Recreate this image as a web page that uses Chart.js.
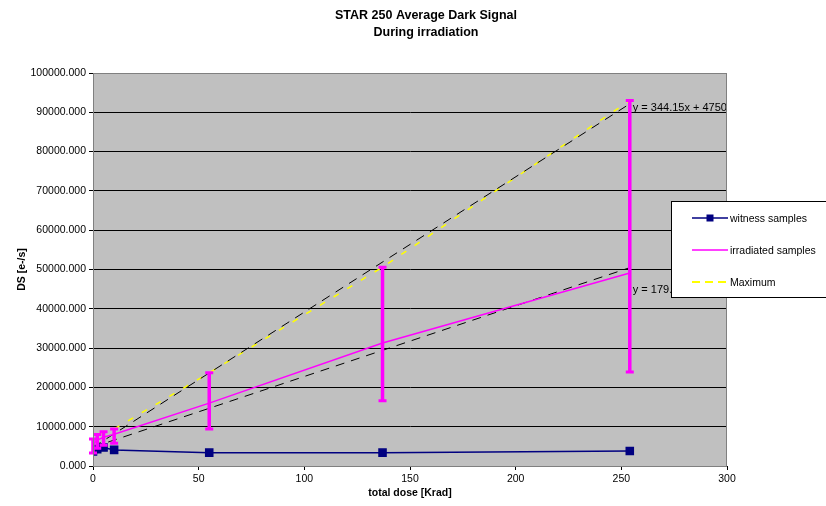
<!DOCTYPE html>
<html>
<head>
<meta charset="utf-8">
<script src="https://cdn.jsdelivr.net/npm/chart.js@4/dist/chart.umd.min.js"></script>
<style>
    html, body { margin: 0; padding: 0; background: #ffffff; }
    #wrap { width: 826px; height: 506px; }
</style>
</head>
<body>
<div id="wrap"><canvas id="chart" width="826" height="506"></canvas></div>
<script>
// Dose steps (Krad) and measured dark signal (e-/s)
const doseX = [0, 2, 5, 10, 55, 137, 254];
const witnessDS = [3700, 4300, 4700, 4100, 3400, 3400, 3800];
const irradiatedDS = [5500, 6600, 7300, 8100, 16000, 31300, 49100];
const errLowDS = [3300, 4500, 5300, 5800, 9400, 16600, 23900];
const maximumDS = [6900, 8000, 8700, 9400, 23700, 50600, 93000];

const trendX = [0, 254];
const trendMaxY = [4750, 92164];
const trendIrrY = [4800, 50470];
const trendLabels = ['y = 344.15x + 4750', 'y = 179.8x + 4800'];

const titleLines = ['STAR 250 Average Dark Signal', 'During irradiation'];
const legendNames = ['witness samples', 'irradiated samples', 'Maximum'];

const FONT = "Arial, 'Liberation Sans', sans-serif";
const colors = {
    witness: '#000080',
    irradiated: '#FF00FF',
    maximum: '#FFFF00',
    trend: '#000000',
    plotBg: '#C0C0C0'
};

function toPoints(xs, ys) {
    return xs.map((x, i) => ({ x: x, y: ys[i] }));
}

// Gray plot area, title, error bars, trend labels and the boxed legend
const plotExtras = {
    id: 'plotExtras',
    beforeDraw(chart) {
        const { ctx, chartArea: a } = chart;
        ctx.save();
        ctx.fillStyle = colors.plotBg;
        ctx.fillRect(a.left, a.top, a.right - a.left, a.bottom - a.top);

        ctx.fillStyle = '#000000';
        ctx.font = 'bold 12.5px ' + FONT;
        ctx.textAlign = 'center';
        ctx.textBaseline = 'middle';
        ctx.fillText(titleLines[0], 426, 16);
        ctx.fillText(titleLines[1], 426, 33);
        ctx.restore();
    },
    afterDatasetsDraw(chart) {
        const { ctx, chartArea: a } = chart;
        const xs = chart.scales.x, ys = chart.scales.y;
        ctx.save();
        ctx.strokeStyle = colors.irradiated;
        doseX.forEach((d, i) => {
            const x = xs.getPixelForValue(d);
            const yTop = ys.getPixelForValue(maximumDS[i]);
            const yBot = ys.getPixelForValue(errLowDS[i]);
            ctx.lineWidth = 3.5;
            ctx.beginPath();
            ctx.moveTo(x, yTop);
            ctx.lineTo(x, yBot);
            ctx.stroke();
            ctx.lineWidth = 3;
            ctx.beginPath();
            ctx.moveTo(x - 4, yTop);
            ctx.lineTo(x + 4, yTop);
            ctx.moveTo(x - 4, yBot);
            ctx.lineTo(x + 4, yBot);
            ctx.stroke();
        });

        // trend equations, clipped to the plot
        ctx.beginPath();
        ctx.rect(a.left, a.top, a.right - a.left, a.bottom - a.top);
        ctx.clip();
        ctx.fillStyle = '#000000';
        ctx.font = '11px ' + FONT;
        ctx.textBaseline = 'middle';
        ctx.textAlign = 'left';
        const lx = xs.getPixelForValue(trendX[1]) + 3;
        ctx.fillText(trendLabels[0], lx, ys.getPixelForValue(trendMaxY[1]) + 4);
        ctx.fillText(trendLabels[1], lx, ys.getPixelForValue(trendIrrY[1]) + 22);
        ctx.restore();

        // plot border
        ctx.save();
        ctx.strokeStyle = '#808080';
        ctx.lineWidth = 1;
        ctx.strokeRect(a.left + 0.5, a.top + 0.5, a.right - a.left - 1, a.bottom - a.top);
        ctx.restore();
    },
    afterDraw(chart) {
        const { ctx } = chart;
        ctx.save();
        const box = { x: 671.5, y: 201.5, w: 160, h: 96 };
        ctx.fillStyle = '#ffffff';
        ctx.fillRect(box.x, box.y, box.w, box.h);
        ctx.strokeStyle = '#000000';
        ctx.lineWidth = 1;
        ctx.strokeRect(box.x, box.y, box.w, box.h);

        const rows = [218, 250, 282];
        const x0 = 692, x1 = 728;
        ctx.font = '10.5px ' + FONT;
        ctx.textBaseline = 'middle';

        // witness
        ctx.strokeStyle = colors.witness;
        ctx.lineWidth = 1.5;
        ctx.beginPath();
        ctx.moveTo(x0, rows[0]);
        ctx.lineTo(x1, rows[0]);
        ctx.stroke();
        ctx.fillStyle = colors.witness;
        ctx.fillRect((x0 + x1) / 2 - 3.5, rows[0] - 3.5, 7, 7);

        // irradiated
        ctx.strokeStyle = colors.irradiated;
        ctx.beginPath();
        ctx.moveTo(x0, rows[1]);
        ctx.lineTo(x1, rows[1]);
        ctx.stroke();

        // maximum
        ctx.strokeStyle = colors.maximum;
        ctx.lineWidth = 2;
        ctx.setLineDash([8, 5]);
        ctx.beginPath();
        ctx.moveTo(x0, rows[2]);
        ctx.lineTo(x1, rows[2]);
        ctx.stroke();
        ctx.setLineDash([]);

        ctx.fillStyle = '#000000';
        legendNames.forEach((name, i) => ctx.fillText(name, x1 + 2, rows[i] + 1));
        ctx.restore();
    }
};

const ctx = document.getElementById('chart').getContext('2d');
const chart = new Chart(ctx, {
    type: 'scatter',
    data: {
        datasets: [
            {
                label: legendNames[0],
                data: toPoints(doseX, witnessDS),
                showLine: true,
                borderColor: colors.witness,
                backgroundColor: colors.witness,
                borderWidth: 1.5,
                pointStyle: 'rect',
                pointRadius: 5,
                order: 0
            },
            {
                label: legendNames[1],
                data: toPoints(doseX, irradiatedDS),
                showLine: true,
                borderColor: colors.irradiated,
                borderWidth: 1.5,
                pointRadius: 0,
                order: 1
            },
            {
                label: 'trend max',
                data: toPoints(trendX, trendMaxY),
                showLine: true,
                borderColor: colors.trend,
                borderWidth: 1,
                borderDash: [9, 7],
                pointRadius: 0,
                order: 2
            },
            {
                label: 'trend irr',
                data: toPoints(trendX, trendIrrY),
                showLine: true,
                borderColor: colors.trend,
                borderWidth: 1,
                borderDash: [9, 7],
                pointRadius: 0,
                order: 3
            },
            {
                label: legendNames[2],
                data: toPoints(doseX, maximumDS),
                showLine: true,
                borderColor: colors.maximum,
                borderWidth: 1.5,
                borderDash: [6, 10],
                borderDashOffset: 8,
                pointRadius: 0,
                order: 4
            }
        ]
    },
    options: {
        responsive: false,
        animation: false,
        layout: { padding: { left: 0, right: 99, top: 73, bottom: 0 } },
        plugins: {
            legend: { display: false },
            tooltip: { enabled: false },
            title: { display: false }
        },
        scales: {
            x: {
                type: 'linear',
                min: 0,
                max: 300,
                ticks: { stepSize: 50, color: '#000000', font: { family: FONT, size: 10.5 }, padding: 3, maxRotation: 0 },
                grid: { drawOnChartArea: false, color: '#000000', tickLength: 4 },
                border: { color: '#000000', width: 1 },
                title: {
                    display: true,
                    text: 'total dose [Krad]',
                    color: '#000000',
                    font: { family: FONT, size: 10.5, weight: 'bold' },
                    padding: { top: 0, bottom: 7 }
                },
                afterFit: (s) => { s.height = 40; }
            },
            y: {
                type: 'linear',
                min: 0,
                max: 100000,
                ticks: {
                    stepSize: 10000,
                    color: '#000000',
                    font: { family: FONT, size: 10.5 },
                    padding: 3,
                    callback: (v) => v.toFixed(3)
                },
                grid: { color: '#000000', tickLength: 4 },
                border: { color: '#404040', width: 1 },
                title: {
                    display: true,
                    text: 'DS [e-/s]',
                    color: '#000000',
                    font: { family: FONT, size: 10.5, weight: 'bold' },
                    padding: { top: 16, bottom: 0 }
                },
                afterFit: (s) => { s.width = 93; }
            }
        }
    },
    plugins: [plotExtras]
});
</script>
</body>
</html>
